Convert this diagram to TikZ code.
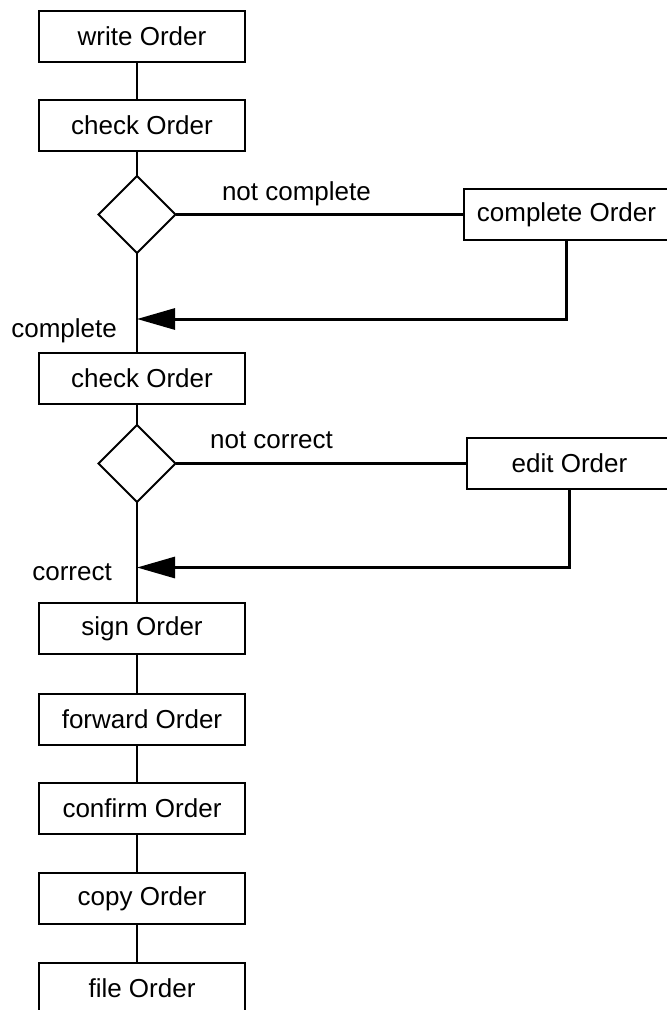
\documentclass[tikz,border=0pt]{standalone}
\usepackage{fontspec}
\setmainfont{Liberation Sans}
\usetikzlibrary{positioning,shapes.geometric,arrows.meta}

\begin{document}
\begin{tikzpicture}[
	box/.style={draw, line width=2pt, outer sep=0pt, inner sep=0pt,
		minimum width=206pt, minimum height=51pt, font=\fontsize{26}{30}\selectfont},
	decision/.style={draw, diamond, line width=2pt, outer sep=0pt, inner sep=0pt,
		minimum width=77pt, minimum height=77pt},
	lbl/.style={inner sep=0pt, font=\fontsize{26}{30}\selectfont},
	flow/.style={line width=2pt},
	branch/.style={line width=3pt},
	back/.style={line width=3pt, -{Triangle[length=38pt,width=21pt]}},
	node distance=38pt]
	\useasboundingbox (0,0) rectangle (667pt,-1010pt);

	% Main column
	\node [box] 		(write) 	at (142pt,-36.5pt)		{write Order};
	\node [box] 		(check1)	[below=38pt of write]	{check Order};
	\node [decision]	(d1)		[below=25pt of check1, xshift=-5pt]	{};
	\node [box] 		(check2)	[below=100pt of d1, xshift=5pt]		{check Order};
	\node [decision]	(d2)		[below=21pt of check2, xshift=-5pt]	{};
	\node [box] 		(sign)		[below=101pt of d2, xshift=5pt]		{sign Order};
	\node [box] 		(forward)	[below=40pt of sign]	{forward Order};
	\node [box] 		(confirm)	[below=38pt of forward]	{confirm Order};
	\node [box] 		(copy)		[below=39pt of confirm]	{copy Order};
	\node [box] 		(file)		[below=39pt of copy]	{file Order};

	% Side boxes
	\node [box] 		(cbox)		[right=288pt of d1]		{complete Order};
	\node [box] 		(ebox)		[right=291pt of d2]		{edit Order};

	% Return points
	\coordinate [below=104.5pt of d1.center] (j1);
	\coordinate [below=104pt of d2.center] (j2);

	% Paths
	\foreach \a/\b in {write/check1, check1/d1, d1/check2, check2/d2, d2/sign,
		sign/forward, forward/confirm, confirm/copy, copy/file}
		\draw [flow] (\a.south -| d1) -- (\b.north -| d1);

	\draw [branch] (d1.east) -- node [lbl, pos=0.42, anchor=base, yshift=14pt]
	(lnotcomplete) {not complete} (cbox.west);
	\draw [branch] (d2.east) -- node [lbl, pos=0.33, anchor=base, yshift=15pt]
	(lnotcorrect) {not correct} (ebox.west);

	\draw [back] (cbox.south) |- (j1);
	\draw [back] (ebox.south) |- (j2);

	\node [lbl, anchor=base east] (lcomplete) at ([xshift=-20pt,yshift=-18pt]j1) {complete};
	\node [lbl, anchor=base east] (lcorrect)  at ([xshift=-25pt,yshift=-13pt]j2) {correct};
\end{tikzpicture}
\end{document}
